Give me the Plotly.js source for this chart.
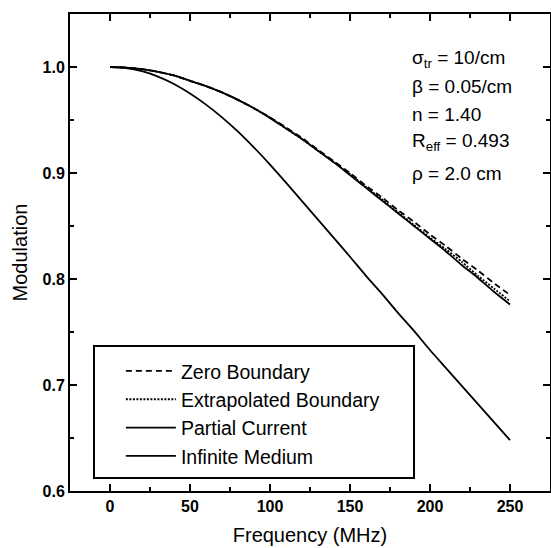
<!DOCTYPE html>
<html>
<head>
<meta charset="utf-8">
<script src="https://cdn.plot.ly/plotly-3.0.1.min.js"></script>
<style>html,body{margin:0;padding:0;background:#fff;}#chart{width:551px;height:548px;}</style>
</head>
<body>
<div id="chart"></div>
<script>
// Frequency (MHz)
const freq = [0,10,20,30,40,50,60,70,80,90,100,110,120,130,140,150,160,170,180,190,200,210,220,230,240,250];
// Modulation
const zeroBoundary = [1.000,0.9995,0.998,0.9955,0.992,0.987,0.982,0.976,0.969,0.961,0.9525,0.943,0.933,0.922,0.911,0.900,0.888,0.877,0.865,0.854,0.842,0.831,0.819,0.808,0.796,0.785];
const extrapolatedBoundary = [1.000,0.9995,0.998,0.9955,0.992,0.987,0.982,0.976,0.969,0.961,0.952,0.942,0.932,0.921,0.910,0.899,0.887,0.875,0.863,0.851,0.839,0.828,0.816,0.803,0.791,0.779];
const partialCurrent = [1.000,0.9995,0.998,0.9955,0.992,0.987,0.982,0.976,0.969,0.961,0.952,0.942,0.932,0.921,0.910,0.898,0.886,0.874,0.862,0.850,0.838,0.826,0.813,0.801,0.788,0.776];
const infiniteMedium = [1.000,0.999,0.996,0.991,0.984,0.975,0.9645,0.9525,0.939,0.924,0.908,0.891,0.8735,0.856,0.8385,0.821,0.803,0.786,0.768,0.751,0.733,0.716,0.699,0.682,0.665,0.648];
const seriesNames = ["Zero Boundary","Extrapolated Boundary","Partial Current","Infinite Medium"];
const paramLines = ["σ<sub>tr</sub> = 10/cm","β = 0.05/cm","n = 1.40","R<sub>eff</sub> = 0.493","ρ = 2.0 cm"];
const xTickVals = [0,50,100,150,200,250];
const yTickVals = [0.6,0.7,0.8,0.9,1.0];

const FONT = "Liberation Sans, Arial, sans-serif";
const seriesY = [zeroBoundary, extrapolatedBoundary, partialCurrent, infiniteMedium];
const styles = [
  {color:"#000", width:1.8, dash:"6px,4px", shape:"spline", smoothing:0.6},
  {color:"#000", width:1.8, dash:"2px,1.5px", shape:"spline", smoothing:0.6},
  {color:"#000", width:1.8, dash:"solid", shape:"spline", smoothing:0.6},
  {color:"#000", width:1.8, dash:"solid", shape:"spline", smoothing:0.6}
];
const traces = seriesY.map((y,i)=>({
  x: freq, y: y, type:"scatter", mode:"lines", name: seriesNames[i],
  line: styles[i]
}));

const paramY = [1.008,0.982,0.9555,0.9295,0.8995];
const annotations = paramLines.map((t,i)=>({
  text: t, xref:"paper", yref:"y", x:0.708, y:paramY[i],
  xanchor:"left", yanchor:"middle", showarrow:false,
  font:{family:FONT, size:19, color:"#000"}
}));

const axisCommon = {
  showgrid:false, zeroline:false, showline:true, linecolor:"#000", linewidth:2,
  mirror:"ticks", ticks:"inside", ticklen:7, tickwidth:2, tickcolor:"#000",
  tickfont:{family:FONT, size:16, color:"#000", weight:"bold"}
};

const layout = {
  width:551, height:548,
  margin:{l:70, r:1, t:14, b:57},
  paper_bgcolor:"#fff", plot_bgcolor:"#fff",
  font:{family:FONT, color:"#000"},
  showlegend:true,
  legend:{
    x:0.106, y:0.292, xanchor:"left", yanchor:"top",
    bgcolor:"rgba(0,0,0,0)", borderwidth:0,
    font:{family:FONT, size:19.5, color:"#000"},
    itemwidth:50
  },
  xaxis: Object.assign({}, axisCommon, {
    range:[-25,275], tickvals:xTickVals,
    minor:{dtick:25, ticks:"inside", ticklen:4, tickwidth:2, tickcolor:"#000"},
    title:{text:"Frequency (MHz)", font:{family:FONT, size:20, color:"#000"}, standoff:14}
  }),
  yaxis: Object.assign({}, axisCommon, {
    range:[0.6,1.05], tickvals:yTickVals, tickformat:".1f",
    minor:{dtick:0.05, ticks:"inside", ticklen:4, tickwidth:2, tickcolor:"#000"},
    title:{text:"Modulation", font:{family:FONT, size:20, color:"#000"}, standoff:10}
  }),
  shapes:[{
    type:"rect", xref:"paper", yref:"paper",
    x0:0.05, x1:0.7167, y0:0.0273, y1:0.304,
    line:{color:"#000", width:2}, fillcolor:"rgba(0,0,0,0)"
  }],
  annotations: annotations
};

Plotly.newPlot("chart", traces, layout, {displayModeBar:false, staticPlot:true});
</script>
</body>
</html>
